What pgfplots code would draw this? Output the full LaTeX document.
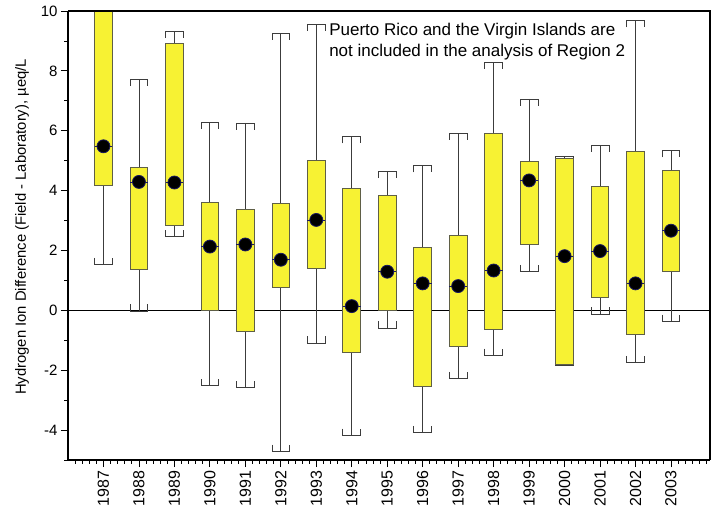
\documentclass[border=0pt]{standalone}
\usepackage{fontspec}
\setmainfont{Liberation Sans}
\usepackage{pgfplots}
\pgfplotsset{compat=1.18}
\usepgfplotslibrary{statistics}

\definecolor{boxyellow}{RGB}{247,242,51}
\definecolor{boxedge}{RGB}{95,95,70}
\definecolor{whisk}{RGB}{60,60,60}
\definecolor{dotedge}{RGB}{25,25,95}

% bracket-shaped whisker caps: legs point back towards the box
\pgfplotsset{
  yb/.style={
    boxplot/draw direction=y,
    boxplot/box extend=0.5,
    boxplot/whisker extend=0.5,
    boxplot/every box/.style={fill=boxyellow, draw=boxedge, line width=0.9pt},
    boxplot/every whisker/.style={draw=whisk, line width=0.8pt},
    boxplot/every median/.style={draw=dotedge, line width=0.6pt},
    boxplot/draw/lower whisker/.code={%
      \pgfmathsetmacro\legtip{\pgfplotsboxplotvalue{lower whisker}+0.22}%
      \draw[/pgfplots/boxplot/every whisker/.try]
        (boxplot cs:\pgfplotsboxplotvalue{lower whisker})
        -- (boxplot cs:\pgfplotsboxplotvalue{lower quartile});
      \draw[/pgfplots/boxplot/every whisker/.try]
        (boxplot whisker cs:\legtip,0)
        -- (boxplot whisker cs:\pgfplotsboxplotvalue{lower whisker},0)
        -- (boxplot whisker cs:\pgfplotsboxplotvalue{lower whisker},1)
        -- (boxplot whisker cs:\legtip,1);
    },
    boxplot/draw/upper whisker/.code={%
      \pgfmathsetmacro\legtip{\pgfplotsboxplotvalue{upper whisker}-0.22}%
      \draw[/pgfplots/boxplot/every whisker/.try]
        (boxplot cs:\pgfplotsboxplotvalue{upper whisker})
        -- (boxplot cs:\pgfplotsboxplotvalue{upper quartile});
      \draw[/pgfplots/boxplot/every whisker/.try]
        (boxplot whisker cs:\legtip,0)
        -- (boxplot whisker cs:\pgfplotsboxplotvalue{upper whisker},0)
        -- (boxplot whisker cs:\pgfplotsboxplotvalue{upper whisker},1)
        -- (boxplot whisker cs:\legtip,1);
    },
  },
  dot/.style={only marks, mark=*, mark size=6.5pt,
    mark options={fill=black, draw=dotedge, line width=0.8pt}},
}

% position (year - 1987), lower whisker, lower quartile, median, upper quartile, upper whisker
\newcommand{\yearbox}[6]{%
  \addplot[yb, boxplot prepared={draw position=#1,
    lower whisker=#2, lower quartile=#3, median=#4,
    upper quartile=#5, upper whisker=#6}] coordinates {};
  \addplot[dot] coordinates {(#1,#4)};
}

\begin{document}
\begin{tikzpicture}
\begin{axis}[
    name=ax,
    scale only axis,
    width=642pt, height=449pt,
    xmin=-1, xmax=17.1,
    ymin=-5, ymax=10,
    axis lines*=left,
    axis line style={line width=1.6pt},
    tick align=outside,
    xtick={0,...,16},
    xticklabels={1987,1988,1989,1990,1991,1992,1993,1994,1995,1996,1997,1998,1999,2000,2001,2002,2003},
    minor xtick={-0.8,-0.6,...,17.0},
    ytick={-4,-2,...,10},
    minor ytick={-5,-3,...,9},
    major tick length=7pt,
    minor tick length=3.5pt,
    every tick/.style={black, line width=0.8pt},
    /pgf/number format/assume math mode=true,
    xticklabel style={rotate=90, anchor=east, font=\fontsize{16}{16}\selectfont},
    yticklabel style={font=\fontsize{15}{15}\selectfont},
    ylabel={Hydrogen Ion Difference (Field - Laboratory), µeq/L},
    every axis y label/.style={at={(axis description cs:0,0.519)},
      xshift=-46pt, rotate=90, anchor=center,
      font=\fontsize{14.8}{15}\selectfont},
]
\addplot[black, line width=1pt] coordinates {(-1,0) (17.1,0)};

\yearbox{0}{1.53}{4.18}{5.48}{10.5}{11}
\yearbox{1}{-0.02}{1.37}{4.29}{4.76}{7.71}
\yearbox{2}{2.46}{2.82}{4.27}{8.92}{9.31}
\yearbox{3}{-2.52}{0}{2.13}{3.59}{6.28}
\yearbox{4}{-2.59}{-0.72}{2.2}{3.36}{6.26}
\yearbox{5}{-4.71}{0.78}{1.69}{3.56}{9.26}
\yearbox{6}{-1.09}{1.39}{3.02}{5.01}{9.56}
\yearbox{7}{-4.17}{-1.42}{0.14}{4.08}{5.8}
\yearbox{8}{-0.59}{0}{1.29}{3.84}{4.64}
\yearbox{9}{-4.08}{-2.53}{0.9}{2.09}{4.83}
\yearbox{10}{-2.28}{-1.2}{0.81}{2.51}{5.92}
\yearbox{11}{-1.5}{-0.64}{1.33}{5.91}{8.29}
\yearbox{12}{1.3}{2.21}{4.34}{4.97}{7.06}
\yearbox{13}{-1.84}{-1.82}{1.81}{5.06}{5.14}
\yearbox{14}{-0.12}{0.42}{1.98}{4.14}{5.51}
\yearbox{15}{-1.74}{-0.81}{0.9}{5.32}{9.67}
\yearbox{16}{-0.36}{1.3}{2.66}{4.67}{5.33}

\node[anchor=base west, inner sep=0pt, font=\fontsize{17}{21}\selectfont]
  at (axis cs:6.36,9.17) {Puerto Rico and the Virgin Islands are};
\node[anchor=base west, inner sep=0pt, font=\fontsize{17}{21}\selectfont]
  at (axis cs:6.36,8.47) {not included in the analysis of Region 2};
\end{axis}
\draw[line width=1.1pt] (ax.north west) -- (ax.north east) -- (ax.south east);
\pgfresetboundingbox
\path ([shift={(-68pt,-51pt)}]ax.south west) rectangle ([shift={(4pt,11pt)}]ax.north east);
\end{tikzpicture}
\end{document}
